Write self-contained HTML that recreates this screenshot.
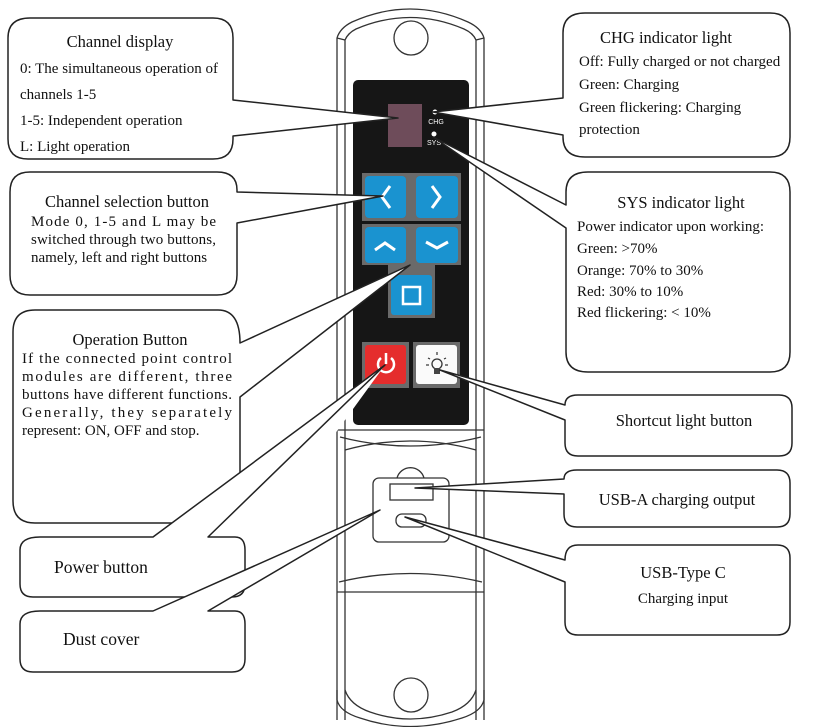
<!DOCTYPE html>
<html><head><meta charset="utf-8"><style>
html,body{margin:0;padding:0;background:#fff;}
svg{display:block;}
text{font-family:"Liberation Serif",serif;fill:#111;}
</style></head><body>
<svg width="813" height="727" viewBox="0 0 813 727" xmlns="http://www.w3.org/2000/svg">
<g fill="none" stroke="#333" stroke-width="1.3">
<path d="M337,720 L337,38 Q340,28 352,22 Q410,-4 468,22 Q481,28 484,38 L484,720"/>
<path d="M345,720 L345,40 Q348,33 356,29 Q410,6 464,29 Q473,33 476,40 L476,720"/>
<line x1="337" y1="38" x2="345" y2="40"/><line x1="484" y1="38" x2="476" y2="40"/>
<circle cx="411" cy="38" r="17"/>
<line x1="337" y1="430" x2="484" y2="430"/>
<path d="M340,437 Q410,455 481,437"/>
<path d="M345,450 Q410,432 476,450"/>
<path d="M339,582 Q410,565 482,582"/>
<line x1="337" y1="592" x2="484" y2="592"/>
<path d="M337,690 L337,700 Q340,712 360,718 Q410,735 462,718 Q481,712 484,700 L484,690"/>
<path d="M345,690 Q350,705 370,712 Q410,726 452,712 Q471,705 476,690"/>
<circle cx="411" cy="695" r="17"/>
<path d="M397,478 A14,14 0 0 1 424,478"/>
<rect x="373" y="478" width="76" height="64" rx="6" fill="#fff"/>
<rect x="390" y="484" width="43" height="16"/>
<rect x="396" y="514" width="30" height="13" rx="6"/>
</g>
<rect x="353" y="80" width="116" height="345" rx="5" fill="#161616"/>
<rect x="388" y="104" width="34" height="43" fill="#6e4c5a"/>
<circle cx="435" cy="112" r="2.5" fill="#fff"/>
<text x="436" y="124" text-anchor="middle" style="fill:#fff;font-family:'Liberation Sans',sans-serif;font-size:7px">CHG</text>
<circle cx="434" cy="134" r="2.5" fill="#fff"/>
<text x="434" y="145" text-anchor="middle" style="fill:#fff;font-family:'Liberation Sans',sans-serif;font-size:7px">SYS</text>
<rect x="362" y="173" width="99" height="48" fill="#6a6a6a"/>
<rect x="365" y="176" width="41" height="42" rx="4" fill="#1a93d0"/>
<rect x="416" y="176" width="42" height="42" rx="4" fill="#1a93d0"/>
<path d="M390,186 L382,197 L390,208" stroke="#fff" stroke-width="3" fill="none"/>
<path d="M432,186 L440,197 L432,208" stroke="#fff" stroke-width="3" fill="none"/>
<path d="M362,224 L461,224 L461,265 L435,265 L435,318 L388,318 L388,265 L362,265 Z" fill="#6a6a6a"/>
<rect x="365" y="227" width="41" height="36" rx="4" fill="#1a93d0"/>
<rect x="416" y="227" width="42" height="36" rx="4" fill="#1a93d0"/>
<path d="M375,250 L385,243 L395,250" stroke="#fff" stroke-width="3" fill="none"/>
<path d="M426,242 L437,248 L448,242" stroke="#fff" stroke-width="3" fill="none"/>
<rect x="391" y="275" width="41" height="40" rx="3" fill="#1a93d0"/>
<rect x="403" y="287" width="17" height="17" stroke="#fff" stroke-width="2.5" fill="none"/>
<rect x="362" y="342" width="47" height="46" fill="#6a6a6a"/>
<rect x="365" y="345" width="41" height="39" rx="3" fill="#e52d2d"/>
<path d="M381,358 A8,8 0 1 0 391,358" stroke="#fff" stroke-width="2.5" fill="none"/>
<line x1="386" y1="353" x2="386" y2="364" stroke="#fff" stroke-width="2.5"/>
<rect x="413" y="342" width="47" height="46" fill="#6a6a6a"/>
<rect x="416" y="345" width="41" height="39" rx="3" fill="#fafafa"/>
<circle cx="437" cy="364" r="5" stroke="#333" stroke-width="1.3" fill="none"/>
<rect x="434" y="368" width="6" height="6" fill="#444"/>
<g stroke="#333" stroke-width="1.2"><line x1="437" y1="352" x2="437" y2="355"/><line x1="428" y1="358" x2="430" y2="359"/><line x1="446" y1="358" x2="444" y2="359"/><line x1="426" y1="365" x2="429" y2="365"/><line x1="448" y1="365" x2="445" y2="365"/></g>

<g fill="#fff" stroke="#222" stroke-width="1.5" stroke-linejoin="round">
<path d="M30,18 H213 Q233,18 233,38 V100 L398,118 L233,136 V139 Q233,159 213,159 H28 Q8,159 8,139 V38 Q8,18 30,18 Z"/>
<path d="M30,172 H217 Q237,172 237,190 V192 L383,196 L237,223 V275 Q237,295 217,295 H30 Q10,295 10,275 V192 Q10,172 30,172 Z"/>
<path d="M35,310 H218 Q240,310 240,343 L410,265 L240,397 V501 Q240,523 218,523 H35 Q13,523 13,501 V332 Q13,310 35,310 Z"/>
<polygon points="153,537 385,365 260,537" stroke="none"/>
<path d="M40,537 H153 L385,365 L208,537 H235 Q245,537 245,550 V584 Q245,597 232,597 H33 Q20,597 20,584 V550 Q20,537 40,537 Z"/>
<path d="M40,611 H153 L380,510 L208,611 H235 Q245,611 245,624 V659 Q245,672 232,672 H33 Q20,672 20,659 V624 Q20,611 40,611 Z"/>
<path d="M585,13 H770 Q790,13 790,33 V137 Q790,157 770,157 H585 Q563,157 563,137 V135 L433,112 L563,98 V33 Q563,13 585,13 Z"/>
<path d="M588,172 H770 Q790,172 790,192 V352 Q790,372 770,372 H588 Q566,372 566,352 V228 L433,137 L566,205 V192 Q566,172 588,172 Z"/>
<path d="M578,395 H779 Q792,395 792,408 V443 Q792,456 779,456 H578 Q565,456 565,443 V420 L440,370 L565,405 Q565,395 578,395 Z"/>
<path d="M577,470 H777 Q790,470 790,483 V514 Q790,527 777,527 H577 Q564,527 564,514 V494 L415,488 L564,479 Q564,470 577,470 Z"/>
<path d="M578,545 H777 Q790,545 790,558 V622 Q790,635 777,635 H578 Q565,635 565,622 V582 L405,517 L565,560 Q565,545 578,545 Z"/>
</g>

<g font-size="15">
<text x="120" y="47" text-anchor="middle" font-size="16.5">Channel display</text>
<text x="20" y="73">0: The simultaneous operation of</text>
<text x="20" y="99">channels 1-5</text>
<text x="20" y="125">1-5: Independent operation</text>
<text x="20" y="151">L: Light operation</text>

<text x="127" y="207" text-anchor="middle" font-size="16.5">Channel selection button</text>
<text x="31" y="226" textLength="185" lengthAdjust="spacing">Mode 0, 1-5 and L may be</text>
<text x="31" y="244" textLength="185" lengthAdjust="spacing">switched through two buttons,</text>
<text x="31" y="262">namely, left and right buttons</text>

<text x="130" y="345" text-anchor="middle" font-size="16.5">Operation Button</text>
<text x="22" y="363" textLength="210" lengthAdjust="spacing">If the connected point control</text>
<text x="22" y="381" textLength="210" lengthAdjust="spacing">modules are different, three</text>
<text x="22" y="399" textLength="210" lengthAdjust="spacing">buttons have different functions.</text>
<text x="22" y="417" textLength="210" lengthAdjust="spacing">Generally, they separately</text>
<text x="22" y="435">represent: ON, OFF and stop.</text>

<text x="54" y="573" font-size="17.5">Power button</text>
<text x="63" y="645" font-size="17.5">Dust cover</text>

<text x="666" y="43" text-anchor="middle" font-size="16.5">CHG indicator light</text>
<text x="579" y="66">Off: Fully charged or not charged</text>
<text x="579" y="89">Green: Charging</text>
<text x="579" y="112">Green flickering: Charging</text>
<text x="579" y="134">protection</text>

<text x="681" y="208" text-anchor="middle" font-size="16.5">SYS indicator light</text>
<text x="577" y="231">Power indicator upon working:</text>
<text x="577" y="253">Green: &gt;70%</text>
<text x="577" y="275">Orange: 70% to 30%</text>
<text x="577" y="296">Red: 30% to 10%</text>
<text x="577" y="317">Red flickering: &lt; 10%</text>

<text x="684" y="426" text-anchor="middle" font-size="16.5">Shortcut light button</text>
<text x="677" y="505" text-anchor="middle" font-size="16.5">USB-A charging output</text>
<text x="683" y="578" text-anchor="middle" font-size="16.5">USB-Type C</text>
<text x="683" y="603" text-anchor="middle">Charging input</text>
</g>
</svg>
</body></html>
